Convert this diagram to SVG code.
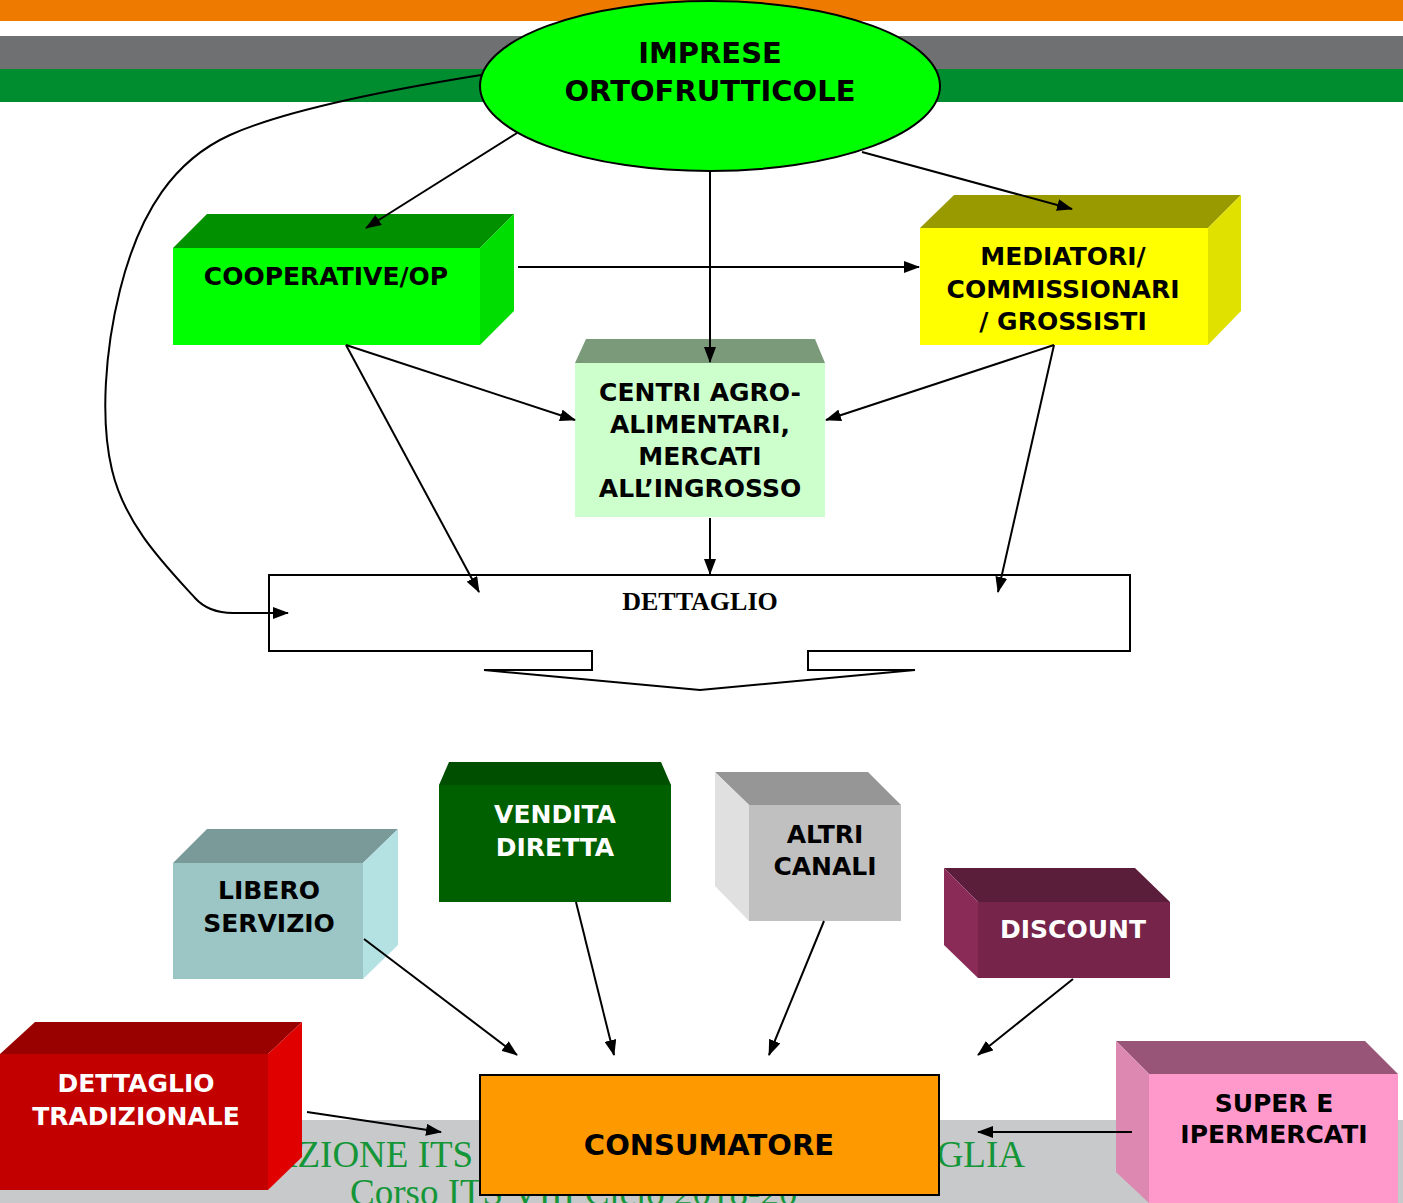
<svg xmlns="http://www.w3.org/2000/svg" width="1403" height="1203" viewBox="0 0 1403 1203">
<defs>
<style>
.t{font-family:"DejaVu Sans","Verdana",sans-serif;font-weight:bold;font-size:25px;text-anchor:middle;fill:#000}
.w{fill:#fff}
.big{font-size:29px}
.ser{font-family:"Liberation Serif","Times New Roman",serif;font-size:26px}
.c{fill:none;stroke:#000;stroke-width:2;marker-end:url(#ah)}
.foot{font-family:"Liberation Serif","Times New Roman",serif;font-size:37px;fill:#149638}
</style>
<marker id="ah" viewBox="0 0 16 12" refX="15" refY="6" markerWidth="16" markerHeight="12" markerUnits="userSpaceOnUse" orient="auto">
<path d="M0,0 L16,6 L0,12 Z" fill="#000"/>
</marker>
</defs>
<rect width="1403" height="1203" fill="#fff"/>
<g id="bands">
<rect x="0" y="0" width="1403" height="21" fill="#ee7b00"/>
<rect x="0" y="36" width="1403" height="33" fill="#6f7071"/>
<rect x="0" y="69" width="1403" height="33" fill="#008d30"/>
<rect x="0" y="1120" width="1403" height="83" fill="#c8c9ca"/>
<text class="foot" x="170" y="1167">FONDAZIONE ITS</text>
<text class="foot" x="1025" y="1167" text-anchor="end">PUGLIA</text>
<text class="foot" x="350" y="1205">Corso ITS VIII Ciclo 2018-20</text>
</g>

<g id="imprese">
<ellipse cx="710" cy="86" rx="230" ry="85" fill="#00ff00" stroke="#000" stroke-width="2"/>
<text class="t big" x="710" y="63">IMPRESE</text>
<text class="t big" x="710" y="101">ORTOFRUTTICOLE</text>
</g>

<g id="cooperative">
<polygon points="173,248 207,214 514,214 480,248" fill="#009000"/>
<polygon points="480,248 514,214 514,311 480,345" fill="#00dd00"/>
<rect x="173" y="248" width="307" height="97" fill="#00ff00"/>
<text class="t" x="326" y="285">COOPERATIVE/OP</text>
</g>

<g id="mediatori">
<polygon points="920,228 954,195 1241,195 1208,228" fill="#999900"/>
<polygon points="1208,228 1241,195 1241,311 1208,345" fill="#e1e100"/>
<rect x="920" y="228" width="288" height="117" fill="#ffff00"/>
<text class="t" x="1063" y="265">MEDIATORI/</text>
<text class="t" x="1063" y="298">COMMISSIONARI</text>
<text class="t" x="1063" y="330">/ GROSSISTI</text>
</g>

<g id="centri">
<polygon points="575,363 586,339 815,339 825,363" fill="#7a9a7a"/>
<rect x="575" y="363" width="250" height="154" fill="#ccffcc"/>
<text class="t" x="700" y="401">CENTRI AGRO-</text>
<text class="t" x="700" y="433">ALIMENTARI,</text>
<text class="t" x="700" y="465">MERCATI</text>
<text class="t" x="700" y="497">ALL’INGROSSO</text>
</g>

<g id="dettaglio">
<path d="M269,575 H1130 V651 H808 V670 H915 L700,690 L484,670 H592 V651 H269 Z" fill="#fff" stroke="#000" stroke-width="2"/>
<text class="t ser" x="700" y="610">DETTAGLIO</text>
</g>

<g id="vendita">
<polygon points="439,785 449,762 661,762 671,785" fill="#004f00"/>
<rect x="439" y="785" width="232" height="117" fill="#006000"/>
<text class="t w" x="555" y="823">VENDITA</text>
<text class="t w" x="555" y="856">DIRETTA</text>
</g>

<g id="libero">
<polygon points="173,863 207,829 398,829 363,863" fill="#7a9a9a"/>
<polygon points="363,863 398,829 398,945 363,979" fill="#b4e2e2"/>
<rect x="173" y="863" width="190" height="116" fill="#9cc5c5"/>
<text class="t" x="269" y="899">LIBERO</text>
<text class="t" x="269" y="932">SERVIZIO</text>
</g>

<g id="altri">
<polygon points="715,772 868,772 901,805 749,805" fill="#969696"/>
<polygon points="715,772 749,805 749,921 715,886" fill="#e0e0e0"/>
<rect x="749" y="805" width="152" height="116" fill="#c0c0c0"/>
<text class="t" x="825" y="843">ALTRI</text>
<text class="t" x="825" y="875">CANALI</text>
</g>

<g id="discount">
<polygon points="944,868 1135,868 1170,902 978,902" fill="#5a1d3a"/>
<polygon points="944,868 978,902 978,978 944,945" fill="#8a2a56"/>
<rect x="978" y="902" width="192" height="76" fill="#76244a"/>
<text class="t w" x="1073" y="938">DISCOUNT</text>
</g>

<g id="tradizionale">
<polygon points="0,1054 35,1022 302,1022 268,1054" fill="#990000"/>
<polygon points="268,1054 302,1022 302,1157 268,1190" fill="#e00000"/>
<rect x="0" y="1054" width="268" height="136" fill="#c20000"/>
<text class="t w" x="136" y="1092">DETTAGLIO</text>
<text class="t w" x="136" y="1125">TRADIZIONALE</text>
</g>

<g id="super">
<polygon points="1116,1041 1365,1041 1398,1074 1149,1074" fill="#995577"/>
<polygon points="1116,1041 1149,1074 1149,1203 1116,1172" fill="#dd88b0"/>
<rect x="1149" y="1074" width="249" height="129" fill="#ff99cc"/>
<text class="t" x="1274" y="1112">SUPER E</text>
<text class="t" x="1274" y="1143">IPERMERCATI</text>
</g>

<g id="consumatore">
<rect x="480" y="1075" width="459" height="120" fill="#ff9900" stroke="#000" stroke-width="2"/>
<text class="t big" x="709" y="1155">CONSUMATORE</text>
</g>

<g id="connectors">
<line class="c" x1="517" y1="133" x2="366" y2="228"/>
<line class="c" x1="862" y1="152" x2="1072" y2="209"/>
<line class="c" x1="710" y1="171" x2="710" y2="362"/>
<line class="c" x1="518" y1="267" x2="919" y2="267"/>
<line class="c" x1="346" y1="345" x2="575" y2="420"/>
<line class="c" x1="346" y1="345" x2="479" y2="592"/>
<line class="c" x1="1054" y1="345" x2="826" y2="420"/>
<line class="c" x1="1054" y1="345" x2="998" y2="592"/>
<line class="c" x1="710" y1="518" x2="710" y2="574"/>
<path class="c" d="M481,75 C400,88 290,108 230,135 C175,160 140,210 120,290 C105,350 100,420 112,470 C125,525 165,565 195,598 C205,609 218,613 233,613 L288,613"/>
<line class="c" x1="364" y1="939" x2="517" y2="1055"/>
<line class="c" x1="576" y1="902" x2="614" y2="1055"/>
<line class="c" x1="824" y1="921" x2="769" y2="1055"/>
<line class="c" x1="1073" y1="979" x2="978" y2="1055"/>
<line class="c" x1="307" y1="1112" x2="441" y2="1132"/>
<line class="c" x1="1132" y1="1132" x2="978" y2="1132"/>
</g>
</svg>
